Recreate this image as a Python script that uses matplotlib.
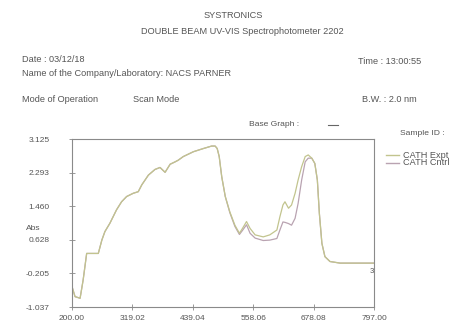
import matplotlib
matplotlib.use("Agg")
import matplotlib.pyplot as plt

plt.rcParams['font.family'] = ['Liberation Sans', 'DejaVu Sans']

wavelength = [200, 206, 216, 222, 229, 252, 259, 265, 275, 288, 298, 308, 321, 331,
              338, 351, 364, 374, 384, 394, 404, 410, 420, 440, 460, 476, 483, 487,
              491, 496, 503, 512, 522, 531, 537, 545, 552, 562, 578, 591, 605, 611,
              617, 621, 628, 634, 641, 647, 654, 661, 667, 674, 680, 685, 689, 694,
              700, 710, 730, 789, 797]
cath_expt = [-0.53, -0.78, -0.82, -0.37, 0.29, 0.29, 0.62, 0.83, 1.04, 1.37, 1.57, 1.70,
             1.78, 1.82, 1.99, 2.23, 2.37, 2.42, 2.30, 2.50, 2.56, 2.60, 2.69, 2.81,
             2.89, 2.95, 2.95, 2.89, 2.69, 2.19, 1.70, 1.32, 0.99, 0.79, 0.91, 1.08,
             0.91, 0.75, 0.70, 0.75, 0.87, 1.20, 1.49, 1.57, 1.41, 1.49, 1.78, 2.11,
             2.44, 2.69, 2.73, 2.65, 2.52, 2.11, 1.28, 0.54, 0.21, 0.09, 0.05, 0.05, 0.05]
cath_cntrl = [-0.53, -0.78, -0.82, -0.37, 0.29, 0.29, 0.62, 0.83, 1.04, 1.37, 1.57, 1.70,
              1.78, 1.82, 1.99, 2.23, 2.37, 2.42, 2.30, 2.50, 2.56, 2.60, 2.69, 2.81,
              2.89, 2.95, 2.95, 2.89, 2.69, 2.19, 1.70, 1.30, 0.96, 0.76, 0.86, 1.00,
              0.79, 0.67, 0.61, 0.62, 0.66, 0.87, 1.07, 1.06, 1.03, 0.99, 1.16, 1.53,
              2.11, 2.56, 2.65, 2.65, 2.52, 2.11, 1.28, 0.54, 0.21, 0.09, 0.05, 0.05, 0.05]

x_ticks = [200.0, 319.4, 438.8, 558.2, 677.6, 797.0]
x_tick_labels = ['200.00', '319.02', '439.04', '558.06', '678.08', '797.00']
y_ticks = [3.125, 2.293, 1.460, 0.628, -0.205, -1.037]
y_tick_labels = ['3.125', '2.293', '1.460', '0.628', '-0.205', '-1.037']

series_names = ['CATH Expt', 'CATH Cntrl']
green = '#c2c48e'
pink = '#b9a3b1'
txt = '#555555'

fig = plt.figure(figsize=(4.58, 3.25), dpi=100)
ax = fig.add_axes([72/458, 18/325, 302/458, 168/325])

ax.plot(wavelength, cath_cntrl, color=pink, lw=0.9)
ax.plot(wavelength, cath_expt, color=green, lw=0.9)

ax.set_xlim(200, 797)
ax.set_ylim(-1.037, 3.125)
ax.set_xticks(x_ticks)
ax.set_xticklabels(x_tick_labels)
ax.set_yticks(y_ticks)
ax.set_yticklabels(y_tick_labels)
ax.tick_params(axis='both', direction='inout', length=4, width=0.6, colors='#888888',
               labelsize=6, labelcolor=txt)
ax.tick_params(axis='y', pad=14)
ax.tick_params(axis='x', pad=4)
for s in ax.spines.values():
    s.set_color('#8a8a8a')
    s.set_linewidth(0.8)

ax.text(797, -0.15, '3', fontsize=5.5, color='#555555', ha='right', va='center')

fs = 6.6
fig.text(233/458, 1 - 16/325, 'SYSTRONICS', ha='center', va='center', fontsize=fs, color=txt)
fig.text(242/458, 1 - 31/325, 'DOUBLE BEAM UV-VIS Spectrophotometer 2202', ha='center',
         va='center', fontsize=fs, color=txt)
fig.text(22/458, 1 - 60/325, 'Date : 03/12/18', ha='left', va='center', fontsize=fs, color=txt)
fig.text(22/458, 1 - 74/325, 'Name of the Company/Laboratory: NACS PARNER', ha='left',
         va='center', fontsize=fs, color=txt)
fig.text(358/458, 1 - 61/325, 'Time : 13:00:55', ha='left', va='center', fontsize=fs, color=txt)
fig.text(22/458, 1 - 99/325, 'Mode of Operation', ha='left', va='center', fontsize=fs, color=txt)
fig.text(133/458, 1 - 99/325, 'Scan Mode', ha='left', va='center', fontsize=fs, color=txt)
fig.text(362/458, 1 - 99/325, 'B.W. : 2.0 nm', ha='left', va='center', fontsize=fs, color=txt)
fig.text(249/458, 1 - 124/325, 'Base Graph :', ha='left', va='center', fontsize=fs - 0.5, color=txt)
fig.add_artist(plt.Line2D([328/458, 338/458], [1 - 125/325, 1 - 125/325], color='#666666', lw=0.8))
fig.text(400/458, 1 - 133/325, 'Sample ID :', ha='left', va='center', fontsize=fs - 0.5, color=txt)
fig.text(33/458, 1 - 228/325, 'Abs', ha='center', va='center', fontsize=fs - 0.5, color=txt)

leg_colors = [green, pink]
leg_y = [155, 163]
for name, c, yy in zip(series_names, leg_colors, leg_y):
    fig.add_artist(plt.Line2D([386/458, 399/458], [1 - yy/325, 1 - yy/325], color=c, lw=1.0))
    fig.text(403/458, 1 - yy/325, name, ha='left', va='center', fontsize=fs, color=txt)

fig.savefig('out.png', dpi=100, facecolor='white')
